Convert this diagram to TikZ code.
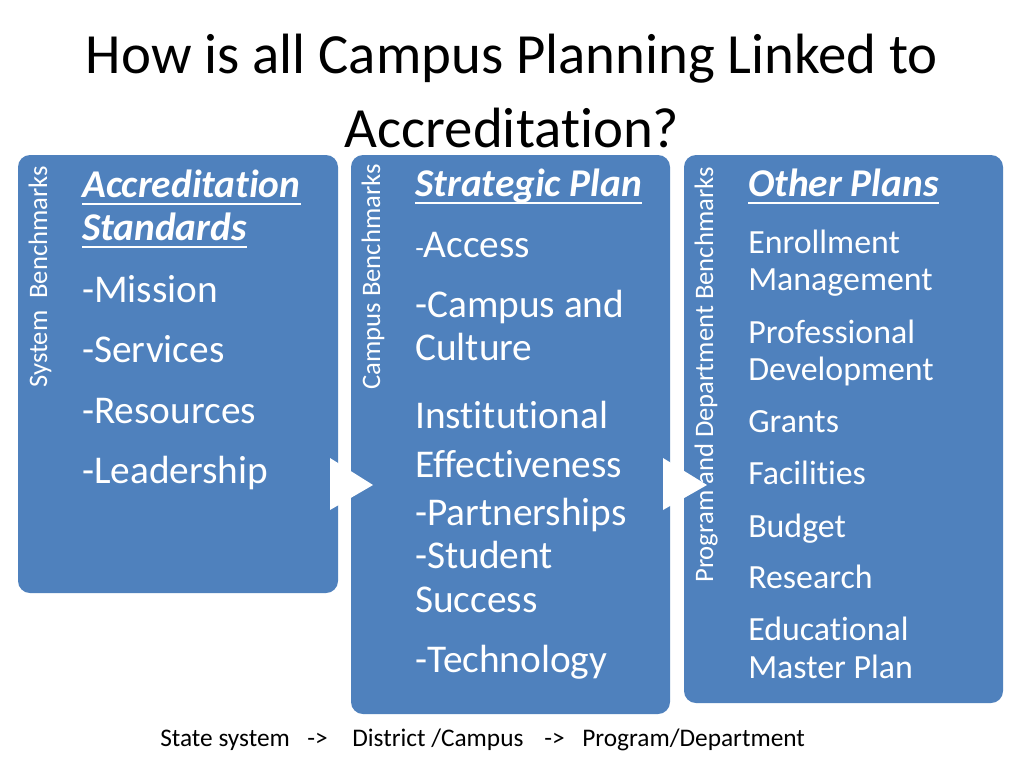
\documentclass[tikz,border=0pt]{standalone}
\usepackage{fontspec}
\setmainfont{Carlito}[RawFeature={-liga;-clig;-calt;-rlig;-dlig}]
\definecolor{boxblue}{HTML}{4F81BD}
\newcommand{\tbreak}{t\kern0pt i}
\begin{document}
\begin{tikzpicture}[x=0.75pt,y=-0.75pt,
  panel/.style={fill=boxblue, rounded corners=9pt, inner sep=0pt, draw=none},
  item/.style={anchor=base west, inner sep=0pt, text=white, font=\fontsize{29.5}{34}\selectfont},
  sitem/.style={anchor=base west, inner sep=0pt, text=white, font=\fontsize{25.4}{29}\selectfont},
  head/.style={anchor=base west, inner sep=0pt, text=white, font=\fontsize{29.5}{34}\selectfont\bfseries\itshape},
  side/.style={anchor=base west, inner sep=0pt, text=white, rotate=90, font=\fontsize{20}{24}\selectfont},
  title/.style={anchor=base, inner sep=0pt, text=black, font=\fontsize{42.6}{48}\selectfont},
  foot/.style={anchor=base west, inner sep=0pt, text=black, font=\fontsize{19}{22}\selectfont},
  uline/.style={draw=white, line width=1.6pt},
  pointer/.style={fill=white, draw=none}]
\useasboundingbox[fill=white] (0,0) rectangle (1024,768);

% title
\node[title] (t1) at (512,73) {How is all Campus Planning Linked to};
\node[title] (t2) at (512,147) {Accredita\tbreak on?};

% panels
\node[panel, minimum width=240pt, minimum height=328.5pt] (b1) at (178,374) {};
\node[panel, minimum width=239.25pt, minimum height=419.25pt] (b2) at (510.5,434.5) {};
\node[panel, minimum width=239.25pt, minimum height=411pt] (b3) at (843.5,429) {};

% pointers
\coordinate (p1a) at (330,458);
\coordinate (p1b) at (373,485);
\coordinate (p1c) at (330,510);
\fill[pointer] (p1a) -- (p1b) -- (p1c) -- cycle;
\coordinate (p2a) at (663,458);
\coordinate (p2b) at (707,485);
\coordinate (p2c) at (663,510);
\fill[pointer] (p2a) -- (p2b) -- (p2c) -- cycle;

% side labels
\node[side] (s1) at (47,388) {System\ \ Benchmarks};
\node[side] (s2) at (380,390) {Campus Benchmarks};
\node[side] (s3) at (713,583) {Program and Department Benchmarks};

% panel 1
\node[head] (h1a) at (82,197) {Accredita\tbreak on};
\node[head] (h1b) at (82,240) {Standards};
\draw[uline] ([yshift=-5.2pt]h1a.base west) -- ([yshift=-5.2pt]h1a.base east);
\draw[uline] ([yshift=-5.2pt]h1b.base west) -- ([yshift=-5.2pt]h1b.base east);
\node[item] (m1) at (82,302) {-Mission};
\node[item] (m2) at (82,362) {-Services};
\node[item] (m3) at (82,423) {-Resources};
\node[item] (m4) at (82,483) {-Leadership};

% panel 2
\node[head] (h2) at (415,196) {Strategic Plan};
\draw[uline] ([yshift=-5.2pt]h2.base west) -- ([yshift=-5.2pt]h2.base east);
\node[item] (c1) at (415,257) {{\fontsize{21}{24}\selectfont -}Access};
\node[item] (c2) at (415,317) {-Campus and};
\node[item] (c3) at (415,360) {Culture};
\node[item] (c4) at (415,428) {Ins\tbreak tu\tbreak onal};
\node[item] (c5) at (415,477) {Effectiveness};
\node[item] (c6) at (415,525) {-Partnerships};
\node[item] (c7) at (415,568) {-Student};
\node[item] (c8) at (415,612) {Success};
\node[item] (c9) at (415,672) {-Technology};

% panel 3
\node[head] (h3) at (748,196) {Other Plans};
\draw[uline] ([yshift=-5.2pt]h3.base west) -- ([yshift=-5.2pt]h3.base east);
\node[sitem] (o1) at (748,253) {Enrollment};
\node[sitem] (o2) at (748,290) {Management};
\node[sitem] (o3) at (748,343) {Professional};
\node[sitem] (o4) at (748,380) {Development};
\node[sitem] (o5) at (748,432) {Grants};
\node[sitem] (o6) at (748,484) {Facili\tbreak es};
\node[sitem] (o7) at (748,537) {Budget};
\node[sitem] (o8) at (748,588) {Research};
\node[sitem] (o9) at (748,640) {Educa\tbreak onal};
\node[sitem] (o10) at (748,678) {Master Plan};

% footer
\node[foot] (f1) at (160,746) {State system};
\node[foot] (f2) at (307,746) {->};
\node[foot] (f3) at (352,746) {District /Campus};
\node[foot] (f4) at (544,746) {->};
\node[foot] (f5) at (582,746) {Program/Department};
\end{tikzpicture}
\end{document}
